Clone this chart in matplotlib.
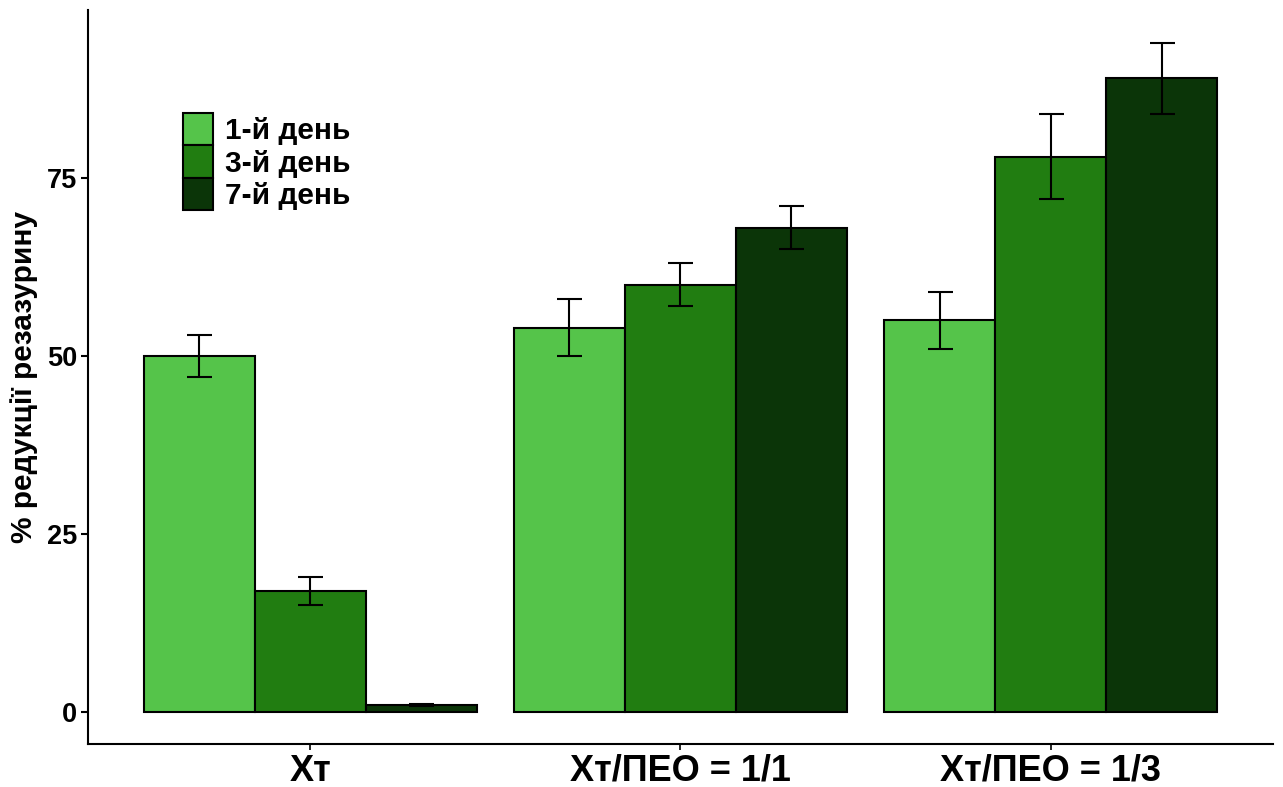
import numpy as np
import matplotlib.pyplot as plt

# Дані
groups = ['Хт', 'Хт/ПЕО = 1/1', 'Хт/ПЕО = 1/3']
series = ['1-й день', '3-й день', '7-й день']
day1 = [50, 54, 55]
day3 = [17, 60, 78]
day7 = [1, 68, 89]
err1 = [3, 4, 4]
err3 = [2, 3, 6]
err7 = [0.1, 3, 5]
colors = ['#55c44a', '#217d11', '#0b3508']

fig = plt.figure(figsize=(12.83, 7.87), dpi=100)
ax = fig.add_axes([0.0686, 0.0546, 0.9234, 0.9327])

x = np.arange(1, len(groups) + 1)
w = 0.3
values = [day1, day3, day7]
errors = [err1, err3, err7]
for i in range(3):
    ax.bar(x + (i - 1) * w, values[i], width=w, color=colors[i],
           edgecolor='black', linewidth=1.5, label=series[i], zorder=2)
    ax.errorbar(x + (i - 1) * w, values[i], yerr=errors[i], fmt='none',
                ecolor='black', elinewidth=1.5, capsize=9, capthick=1.5, zorder=3)

ax.set_xlim(0.4, 3.6)
ax.set_ylim(-4.5, 98.6)
ax.set_xticks(x)
ax.set_xticklabels(groups, fontsize=26, fontweight='bold', family='Liberation Sans')
ax.set_yticks([0, 25, 50, 75])
ax.set_yticklabels(['0', '25', '50', '75'], fontsize=19.5, fontweight='bold', family='Liberation Sans')
ax.tick_params(axis='x', length=4, width=1.2, pad=3)
ax.tick_params(axis='y', length=5, width=1.5, pad=3)
for s in ['top', 'right']:
    ax.spines[s].set_visible(False)
for s in ['left', 'bottom']:
    ax.spines[s].set_linewidth(1.5)

ax.set_ylabel('% редукції резазурину', fontsize=21.5, fontweight='bold',
              family=['Liberation Sans Narrow', 'Liberation Sans'], labelpad=6)

leg = ax.legend(loc='upper left', bbox_to_anchor=(0.080, 0.8597), frameon=False,
                prop={'family': 'Liberation Sans', 'weight': 'bold', 'size': 21.5},
                handlelength=1.0, handleheight=1.29, handletextpad=0.4,
                labelspacing=0.0, borderaxespad=0, borderpad=0)

fig.savefig('out.png', dpi=100)
